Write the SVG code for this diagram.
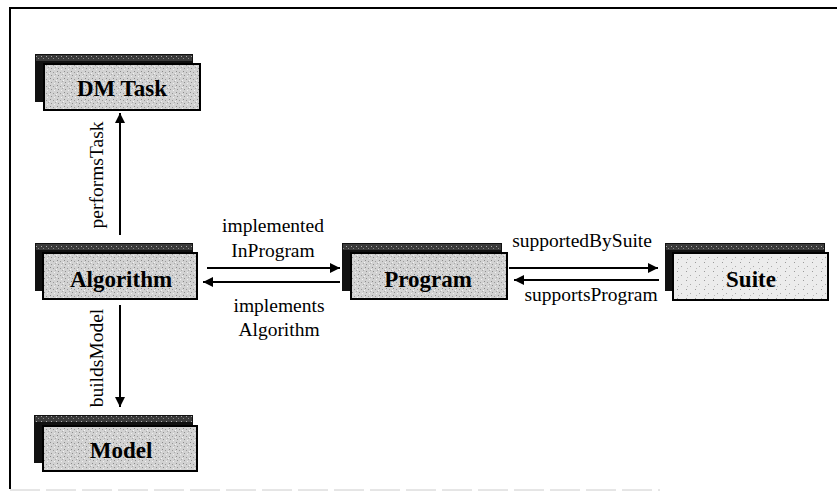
<svg xmlns="http://www.w3.org/2000/svg" width="837" height="493" viewBox="0 0 837 493">
<defs>
<pattern id="tex" width="7" height="7" patternUnits="userSpaceOnUse">
<rect width="7" height="7" fill="#d2d2d2"/>
<rect x="1" y="1" width="1" height="1" fill="#8a8a8a"/>
<rect x="4" y="2" width="1" height="1" fill="#9a9a9a"/>
<rect x="2" y="5" width="1" height="1" fill="#8f8f8f"/>
<rect x="6" y="4" width="1" height="1" fill="#aaa"/>
<rect x="5" y="6" width="1" height="1" fill="#f0f0f0"/>
<rect x="0" y="3" width="1" height="1" fill="#f2f2f2"/>
</pattern>
<pattern id="texl" width="9" height="9" patternUnits="userSpaceOnUse">
<rect width="9" height="9" fill="#ececec"/>
<rect x="2" y="1" width="1" height="1" fill="#9a9a9a"/>
<rect x="6" y="5" width="1" height="1" fill="#aaa"/>
<rect x="3" y="7" width="1" height="1" fill="#bbb"/>
</pattern>
<pattern id="texd" width="5" height="5" patternUnits="userSpaceOnUse">
<rect width="5" height="5" fill="#3a3a3a"/>
<rect x="1" y="1" width="1" height="1" fill="#aaa"/>
<rect x="3" y="3" width="1" height="1" fill="#888"/>
</pattern>
<marker id="ah" viewBox="0 0 10 10" refX="10" refY="5" markerWidth="10" markerHeight="10" markerUnits="userSpaceOnUse" orient="auto">
<path d="M0,0 L10,5 L0,10 Z" fill="#000"/>
</marker>
</defs>
<style>
.back{fill:#111;}
.strip{fill:url(#texd);}
.front{fill:url(#tex);stroke:#000;stroke-width:2;}
.frontl{fill:url(#texl);stroke:#000;stroke-width:2;}
.nt{font-family:"Liberation Serif",serif;font-weight:bold;font-size:23px;text-anchor:middle;fill:#000;}
.lt{font-family:"Liberation Serif",serif;font-size:19.5px;text-anchor:middle;fill:#000;}
.ln{stroke:#000;stroke-width:2;fill:none;marker-end:url(#ah);}
</style>
<rect width="837" height="493" fill="#fff"/>
<g id="frame">
<line x1="10" y1="8" x2="837" y2="8" stroke="#000" stroke-width="2"/>
<line x1="10" y1="7" x2="10" y2="489" stroke="#000" stroke-width="2"/>
<line x1="10" y1="490" x2="660" y2="490" stroke="#ccc" stroke-width="1" stroke-dasharray="30,6"/>
</g>
<g id="dmtask">
<rect class="back" x="35" y="54" width="158" height="48"/>
<rect class="strip" x="36" y="55" width="156" height="6"/>
<rect class="front" x="44" y="64" width="156" height="46"/>
<text class="nt" x="122" y="96">DM Task</text>
</g>
<g id="algorithm">
<rect class="back" x="35" y="243" width="158" height="48"/>
<rect class="strip" x="36" y="244" width="156" height="6"/>
<rect class="front" x="43" y="253" width="154" height="46"/>
<text class="nt" x="121" y="287">Algorithm</text>
</g>
<g id="program">
<rect class="back" x="342" y="243" width="160" height="48"/>
<rect class="strip" x="343" y="244" width="158" height="6"/>
<rect class="front" x="351" y="253" width="156" height="46"/>
<text class="nt" x="428" y="287">Program</text>
</g>
<g id="suite">
<rect class="back" x="665" y="243" width="160" height="48"/>
<rect class="strip" x="666" y="244" width="158" height="6"/>
<rect class="frontl" x="673" y="253" width="155" height="47"/>
<text class="nt" x="751" y="287">Suite</text>
</g>
<g id="model">
<rect class="back" x="34" y="415" width="159" height="48"/>
<rect class="strip" x="35" y="416" width="157" height="6"/>
<rect class="front" x="43" y="426" width="154" height="45"/>
<text class="nt" x="121" y="458">Model</text>
</g>
<g id="connectors">
<line class="ln" x1="120" y1="235" x2="120" y2="113"/>
<line class="ln" x1="120" y1="305" x2="120" y2="407"/>
<line class="ln" x1="207" y1="268" x2="340" y2="268"/>
<line class="ln" x1="340" y1="282" x2="203" y2="282"/>
<line class="ln" x1="509" y1="268" x2="658" y2="268"/>
<line class="ln" x1="659" y1="280" x2="514" y2="280"/>
<text class="lt" transform="translate(103,175) rotate(-90)">performsTask</text>
<text class="lt" transform="translate(103,358) rotate(-90)">buildsModel</text>
<text class="lt" x="273" y="232">implemented</text>
<text class="lt" x="273" y="257">InProgram</text>
<text class="lt" x="279" y="312">implements</text>
<text class="lt" x="279" y="336">Algorithm</text>
<text class="lt" x="582" y="247">supportedBySuite</text>
<text class="lt" x="591" y="301">supportsProgram</text>
</g>
</svg>
